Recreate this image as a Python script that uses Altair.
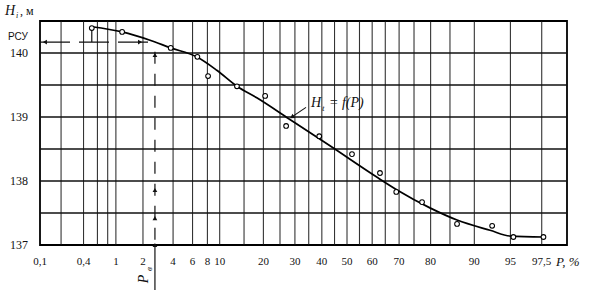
import altair as alt
import pandas as pd
from statistics import NormalDist

nd = NormalDist()


def zq(p):
    return nd.inv_cdf(p / 100.0)


# ---- data ----
pts_P = [0.51, 1.18, 3.8, 6.6, 8.1, 13.4, 20.5, 27.0, 39.0, 52.0, 63.0, 69.0, 77.5, 86.6, 92.8, 95.3, 97.6]
pts_H = [140.39, 140.33, 140.08, 139.94, 139.64, 139.48, 139.33, 138.86, 138.70, 138.42, 138.125, 137.83,
         137.67, 137.33, 137.30, 137.125, 137.125]

curve_P = [0.51, 1.18, 2.37, 3.8, 6.5, 9.5, 13.4, 18.2, 28.0, 43.2, 62.2, 69.3, 79.8, 86.6, 92.5, 95.0, 97.6]
curve_H = [140.41, 140.33, 140.20, 140.08, 139.94, 139.73, 139.48, 139.30, 138.97, 138.55, 138.05, 137.86,
           137.58, 137.39, 137.23, 137.14, 137.125]

grid_P = [0.2, 0.4, 0.6, 0.8, 1, 2, 4, 6, 8, 10, 15, 20, 25, 30, 35, 40, 45, 50, 55, 60, 65, 70, 75, 80,
          85, 90, 95, 97.5]
label_P = [0.1, 0.4, 1, 2, 4, 6, 8, 10, 20, 30, 40, 50, 60, 70, 80, 90, 95, 97.5]
label_txt = ["0,1", "0,4", "1", "2", "4", "6", "8", "10", "20", "30", "40", "50", "60", "70", "80", "90",
             "95", "97,5"]
grid_H = [137.5, 138, 138.5, 139, 139.5, 140]
ytick_H = [137, 138, 139, 140]
ytick_txt = ["137", "138", "139", "140"]

P_max = 98.66
H_min, H_max = 137.0, 140.5
rsu_H = 140.17      # РСУ level
Pe = 2.66           # P_e
Pe_arrows_H = [139.97, 137.86, 137.42, 137.0]

W, H = 527, 224
FONT = "Liberation Serif"

xs = alt.Scale(domain=[zq(0.1), zq(P_max)], nice=False, zero=False)
ys = alt.Scale(domain=[H_min, H_max], nice=False, zero=False)

pts = pd.DataFrame({"z": [zq(p) for p in pts_P], "H": pts_H})
crv = pd.DataFrame({"z": [zq(p) for p in curve_P], "H": curve_H})
vg = pd.DataFrame({"z": [zq(p) for p in grid_P]})
hg = pd.DataFrame({"H": grid_H})
xl = pd.DataFrame({"z": [zq(p) for p in label_P], "t": label_txt})
yl = pd.DataFrame({"H": ytick_H, "t": ytick_txt})

X = lambda: alt.X("z:Q", scale=xs, axis=None)
Y = lambda: alt.Y("H:Q", scale=ys, axis=None)

vgrid = alt.Chart(vg).mark_rule(color="#111", strokeWidth=1.1, opacity=0.85).encode(x=X())
hgrid = alt.Chart(hg).mark_rule(color="#111", strokeWidth=1.3).encode(y=Y())

curve = alt.Chart(crv).mark_line(interpolate="monotone", color="#000", strokeWidth=1.7).encode(x=X(), y=Y())
points = alt.Chart(pts).mark_point(shape="circle", size=22, stroke="#000", fill="white", fillOpacity=1,
                                   strokeWidth=1.1, opacity=1).encode(x=X(), y=Y())

xlab = alt.Chart(xl).mark_text(font=FONT, fontSize=11, color="#111", baseline="middle").encode(
    x=X(), y=alt.value(241), text="t:N")
ylab = alt.Chart(yl).mark_text(font=FONT, fontSize=12, color="#111", baseline="middle").encode(
    x=alt.value(-21), y=Y(), text="t:N")

# РСУ level line with arrows
rsu = pd.DataFrame({"z": [zq(0.1)], "z2": [zq(2.5)], "H": [rsu_H]})
rsu_line = alt.Chart(rsu).mark_rule(color="#111", strokeWidth=1.2, strokeDash=[30, 9]).encode(
    x=alt.X("z:Q", scale=xs, axis=None), x2="z2:Q", y=Y())
rsu_arr = pd.DataFrame({"z": [zq(0.118), zq(1.86)], "H": [rsu_H, rsu_H], "a": [270, 90]})
rsu_heads = alt.Chart(rsu_arr).mark_point(shape="triangle-up", filled=True, color="#111", size=22,
                                          opacity=1).encode(x=X(), y=Y(), angle=alt.Angle("a:Q", scale=None))
drop = pd.DataFrame({"z": [zq(pts_P[0])], "H": [pts_H[0]], "H2": [rsu_H]})
drop_rule = alt.Chart(drop).mark_rule(color="#111", strokeWidth=1.2).encode(
    x=X(), y=alt.Y("H:Q", scale=ys, axis=None), y2="H2:Q")

# P_e vertical line
pe = pd.DataFrame({"z": [zq(Pe)], "H": [140.02], "H2": [H_min]})
pe_line = alt.Chart(pe).mark_rule(color="#111", strokeWidth=1.2, strokeDash=[12, 10]).encode(
    x=X(), y=alt.Y("H:Q", scale=ys, axis=None), y2="H2:Q")
pe_below = alt.Chart(pe).mark_rule(color="#111", strokeWidth=1.2).encode(
    x=X(), y=alt.value(H), y2=alt.value(H + 45))
pe_arr = pd.DataFrame({"z": [zq(Pe)] * len(Pe_arrows_H), "H": Pe_arrows_H})
pe_heads = alt.Chart(pe_arr).mark_point(shape="triangle-up", filled=True, color="#111", size=22,
                                        opacity=1).encode(x=X(), y=Y())

# annotation arrow for H_t = f(P)
ann = pd.DataFrame({"z": [zq(34.0)], "H": [139.15], "z2": [zq(28.6)], "H2": [138.99]})
ann_line = alt.Chart(ann).mark_rule(color="#111", strokeWidth=1.1).encode(
    x=alt.X("z:Q", scale=xs, axis=None), x2="z2:Q", y=alt.Y("H:Q", scale=ys, axis=None), y2="H2:Q")
ann_head = alt.Chart(pd.DataFrame({"z": [zq(29.0)], "H": [139.0]})).mark_point(
    shape="triangle-up", filled=True, color="#111", size=26, opacity=1, angle=236).encode(x=X(), y=Y())


def txt(s, x, y, size=12, style="normal", align="left", angle=0, font=FONT, weight="normal",
        baseline="middle"):
    return alt.Chart(pd.DataFrame({"t": [s]})).mark_text(
        font=font, fontSize=size, fontStyle=style, align=align, baseline=baseline, angle=angle,
        color="#111", fontWeight=weight).encode(x=alt.value(x), y=alt.value(y), text="t:N")


texts = [
    txt("H", -35, -10, size=14, style="italic"),
    txt("i", -24, -5, size=8, style="italic"),
    txt(", м", -20, -10, size=12),
    txt("РСУ", -32, 16, size=10, font="Liberation Sans"),
    txt("P, %", 516, 241, size=13, style="italic"),
    txt("H", 271, 82, size=14, style="italic"),
    txt("t", 282, 87, size=9, style="italic"),
    txt("= f(P)", 289, 82, size=14, style="italic"),
    txt("P", 104, 258, size=14, style="italic", align="center", angle=270),
    txt("в", 109, 248, size=9, style="italic", align="center", angle=270),
]

chart = alt.layer(
    vgrid, hgrid, rsu_line, rsu_heads, drop_rule, pe_line, pe_below, pe_heads,
    curve, points, ann_line, ann_head, xlab, ylab, *texts
).properties(
    width=W, height=H,
    padding={"left": 40, "top": 21, "right": 28, "bottom": 48},
    autosize=alt.AutoSizeParams(type="none"),
    background="white",
).configure_view(stroke="#000", strokeWidth=1.8)

chart.save("out.html", embed_options={"renderer": "svg", "actions": False})
